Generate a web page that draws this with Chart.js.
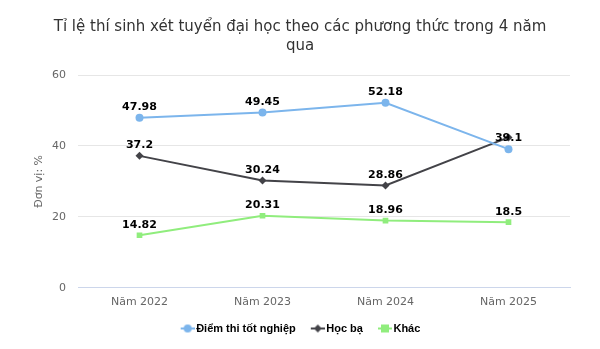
<!DOCTYPE html>
<html lang="vi">
<head>
<meta charset="UTF-8">
<title>Tỉ lệ thí sinh xét tuyển đại học</title>
<script src="https://cdn.jsdelivr.net/npm/chart.js"></script>
<style>
    html, body { margin: 0; padding: 0; background: #fff; }
    #wrap { width: 600px; height: 349px; }
</style>
</head>
<body>
<div id="wrap"><canvas id="chart"></canvas></div>
<script>
    const years = ['Năm 2022', 'Năm 2023', 'Năm 2024', 'Năm 2025'];
    const diemThi = [47.98, 49.45, 52.18, 39.1];
    const hocBa = [37.2, 30.24, 28.86, 42.4];
    const khac = [14.82, 20.31, 18.96, 18.5];
    // the last Học bạ label collides with 39.1 and is left out
    const hocBaLabels = [true, true, true, false];
    const yTicks = [0, 20, 40, 60];

    const FONT = '"DejaVu Sans", Verdana, sans-serif';
    const LEGEND_FONT = '"Liberation Sans", Arial, sans-serif';

    // "line + marker" legend icon; the empty 5px on the left widens the gap between items
    function legendIcon(color, shape) {
        const c = document.createElement('canvas');
        c.width = 19; c.height = 12;
        const g = c.getContext('2d');
        g.translate(5, 0);
        g.strokeStyle = color; g.fillStyle = color; g.lineWidth = 2;
        g.beginPath(); g.moveTo(0, 6); g.lineTo(14, 6); g.stroke();
        g.beginPath();
        if (shape === 'circle') g.arc(7, 6, 4, 0, Math.PI * 2);
        else if (shape === 'diamond') { g.moveTo(7, 2); g.lineTo(11, 6); g.lineTo(7, 10); g.lineTo(3, 6); g.closePath(); }
        else g.rect(3, 2, 8, 8);
        g.fill();
        return c;
    }

    const valueLabels = {
        id: 'valueLabels',
        afterDatasetsDraw(chart) {
            const ctx = chart.ctx;
            ctx.save();
            ctx.font = 'bold 11px ' + FONT;
            ctx.fillStyle = '#000';
            ctx.textAlign = 'center';
            ctx.textBaseline = 'bottom';
            chart.data.datasets.forEach((ds, i) => {
                const meta = chart.getDatasetMeta(i);
                meta.data.forEach((pt, j) => {
                    if (ds.showLabel && !ds.showLabel[j]) return;
                    ctx.fillText(String(ds.data[j]), pt.x, pt.y - 5);
                });
            });
            ctx.restore();
        }
    };

    new Chart(document.getElementById('chart'), {
        type: 'line',
        data: {
            labels: years,
            datasets: [
                {
                    label: 'Điểm thi tốt nghiệp',
                    data: diemThi,
                    borderColor: '#7cb5ec',
                    backgroundColor: '#7cb5ec',
                    pointStyle: 'circle',
                    pointRadius: 4,
                    icon: legendIcon('#7cb5ec', 'circle')
                },
                {
                    label: 'Học bạ',
                    data: hocBa,
                    borderColor: '#434348',
                    backgroundColor: '#434348',
                    pointStyle: 'rectRot',
                    pointRadius: 4,
                    showLabel: hocBaLabels,
                    icon: legendIcon('#434348', 'diamond')
                },
                {
                    label: 'Khác',
                    data: khac,
                    borderColor: '#90ed7d',
                    backgroundColor: '#90ed7d',
                    pointStyle: 'rect',
                    pointRadius: 4,
                    icon: legendIcon('#90ed7d', 'square')
                }
            ]
        },
        options: {
            responsive: true,
            maintainAspectRatio: false,
            animation: false,
            layout: { padding: { top: 17, right: 10, bottom: 5, left: 10 } },
            elements: { line: { borderWidth: 2, tension: 0 }, point: { borderWidth: 0 } },
            plugins: {
                tooltip: { enabled: false },
                title: {
                    display: true,
                    text: ['Tỉ lệ thí sinh xét tuyển đại học theo các phương thức trong 4 năm', 'qua'],
                    color: '#333',
                    font: { family: FONT, size: 15, weight: 'normal', lineHeight: 1.3 },
                    padding: { top: 0, bottom: 19 }
                },
                legend: {
                    position: 'bottom',
                    labels: {
                        color: '#333',
                        font: { family: LEGEND_FONT, size: 11, weight: 'bold' },
                        usePointStyle: true,
                        boxWidth: 19,
                        boxHeight: 12,
                        padding: 14,
                        generateLabels(chart) {
                            return chart.data.datasets.map((ds, i) => ({
                                text: ds.label,
                                pointStyle: ds.icon,
                                fillStyle: ds.borderColor,
                                strokeStyle: ds.borderColor,
                                lineWidth: 0,
                                hidden: false,
                                datasetIndex: i
                            }));
                        }
                    }
                }
            },
            scales: {
                x: {
                    offset: true,
                    grid: { display: false },
                    border: { color: '#ccd6eb' },
                    ticks: { color: '#666', font: { family: FONT, size: 11 }, padding: 0 }
                },
                y: {
                    min: 0,
                    max: 60,
                    afterBuildTicks(scale) { scale.ticks = yTicks.map(v => ({ value: v })); },
                    afterFit(scale) { scale.width = 68; },
                    grid: { color: '#e6e6e6', drawTicks: false },
                    border: { display: false },
                    ticks: { color: '#666', font: { family: FONT, size: 11 }, padding: 12 },
                    title: {
                        display: true,
                        text: 'Đơn vị: %',
                        color: '#666',
                        font: { family: FONT, size: 11 },
                        padding: { top: 23, bottom: 0 }
                    }
                },
                // empty right margin so the title stays centred on the page
                gap: {
                    position: 'right',
                    afterFit(scale) { scale.width = 20; },
                    grid: { display: false },
                    border: { display: false },
                    ticks: { display: false }
                }
            }
        },
        plugins: [valueLabels]
    });
</script>
</body>
</html>
